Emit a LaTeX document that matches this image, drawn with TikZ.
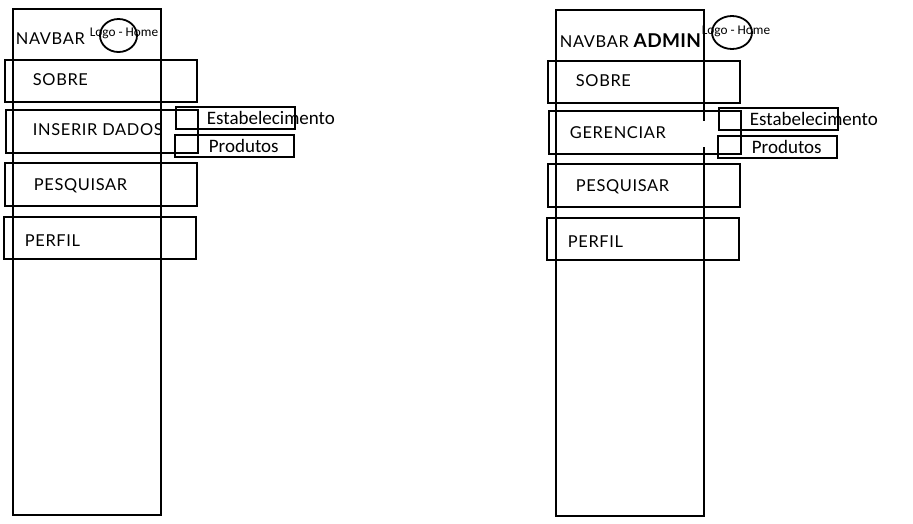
\documentclass[tikz,border=0pt]{standalone}
\usepackage{fontspec}
\setmainfont{Lato}
\newfontfamily\menufont[LetterSpace=4]{Lato}
\newfontfamily\boldfont[LetterSpace=2]{Lato Bold}
\newfontfamily\smallfont{Carlito}
\usepackage{tikz}

\begin{document}
\begin{tikzpicture}[x=1pt,y=-1pt,line width=1.8pt,
  menu/.style={anchor=west,inner sep=0pt,font=\menufont\fontsize{16.4}{16.4}\selectfont},
  sub/.style={anchor=west,inner sep=0pt,font=\smallfont\fontsize{19}{19}\selectfont},
  logo/.style={inner sep=0pt,font=\smallfont\fontsize{13.3}{13.3}\selectfont}]

\useasboundingbox[fill=white] (0,0) rectangle (913,523);

% Navbar (user)
\draw (13,9) rectangle (161,515);
\node[menu] (navUser) at (15,39) {NAVBAR};
\draw (118.5,35.5) ellipse [x radius=18.5, y radius=16.5];
\node[logo] (logoUser) at (124,33) {Logo - Home};

% menu boxes
\draw (5,60) rectangle (197,102);
\node[menu] (sobreUser) at (32,80) {SOBRE};
\draw (6,110) rectangle (198,153);
\node[menu] (inserir) at (32,130) {INSERIR DADOS};
\draw (5,163) rectangle (197,206);
\node[menu] (pesqUser) at (33,186) {PESQUISAR};
\draw (4,217) rectangle (196,259);
\node[menu] (perfilUser) at (24,241) {PERFIL};

% submenu
\draw (176,107) rectangle (295,129);
\node[sub] (estUser) at (206,118) {Estabelecimento};
\draw (175,135) rectangle (294,157);
\node[sub] (prodUser) at (208,146) {Produtos};

% Navbar (admin)
\draw (556,10) rectangle (704,516);
\node[menu,anchor=base west] (navAdmin) at (559,47)
  {NAVBAR {\boldfont\fontsize{19}{19}\selectfont ADMIN}};
\draw (732,32.5) ellipse [x radius=20, y radius=16.5];
\node[logo] (logoAdmin) at (736,31) {Logo - Home};

% menu boxes
\draw (548,61) rectangle (740,103);
\node[menu] (sobreAdmin) at (575,81) {SOBRE};
\draw (549,111) rectangle (741,154);
\draw[white,line width=3pt] (704,121) -- (704,147);
\node[menu] (gerenciar) at (569,133) {GERENCIAR};
\draw (548,164) rectangle (740,207);
\node[menu] (pesqAdmin) at (575,187) {PESQUISAR};
\draw (547,218) rectangle (739,260);
\node[menu] (perfilAdmin) at (567,242) {PERFIL};

% submenu
\draw (719,108) rectangle (838,130);
\node[sub] (estAdmin) at (749,119) {Estabelecimento};
\draw (718,136) rectangle (837,158);
\node[sub] (prodAdmin) at (751,147) {Produtos};

\end{tikzpicture}
\end{document}
